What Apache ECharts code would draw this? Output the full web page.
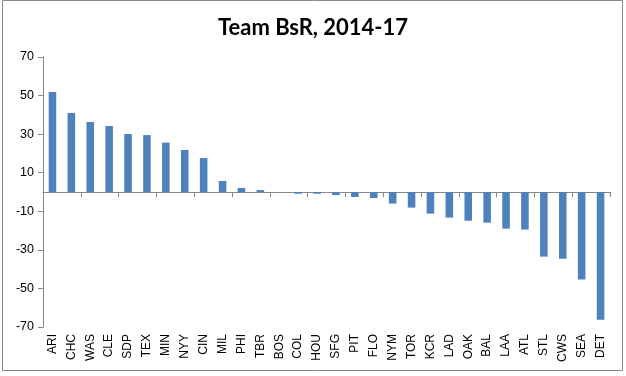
<!DOCTYPE html>
<html>
<head>
<meta charset="utf-8">
<script src="https://cdn.jsdelivr.net/npm/echarts@6/dist/echarts.min.js"></script>
<style>
html,body{margin:0;padding:0;background:#fff;}
#chart{width:626px;height:376px;}
</style>
</head>
<body>
<div id="chart"></div>
<script>
const teams = ["ARI","CHC","WAS","CLE","SDP","TEX","MIN","NYY","CIN","MIL","PHI","TBR","BOS","COL","HOU","SFG","PIT","FLO","NYM","TOR","KCR","LAD","OAK","BAL","LAA","ATL","STL","CWS","SEA","DET"];
const bsr = [51.8,41.0,36.3,34.2,30.1,29.5,25.6,21.8,17.6,5.7,2.1,1.0,0.0,-0.9,-0.9,-1.6,-2.6,-3.1,-6.0,-8.1,-11.2,-13.3,-14.9,-15.9,-19.0,-19.5,-33.5,-34.6,-45.4,-66.2];
const yMin = -70, yMax = 70, yStep = 20;
const titleText = "Team BsR, 2014-17";

const chart = echarts.init(document.getElementById('chart'), null, {renderer:'canvas'});
const axisGray = '#868686';
chart.setOption({
  animation: false,
  backgroundColor: '#ffffff',
  title: {
    text: titleText,
    left: 'center',
    top: 12,
    textStyle: {fontFamily: 'Lato', fontWeight: 'bold', fontSize: 22, color: '#000'}
  },
  graphic: [{
    type: 'rect',
    shape: {x: 2.5, y: 0.5, width: 620, height: 370},
    style: {fill: 'none', stroke: '#888888', lineWidth: 1},
    silent: true
  }],
  grid: {left: 43, right: 16, top: 57, bottom: 49, containLabel: false},
  xAxis: [{
    type: 'category',
    data: teams,
    axisLine: {onZero: true, lineStyle: {color: axisGray, width: 1}},
    axisTick: {show: true, alignWithLabel: false, length: 5, lineStyle: {color: axisGray}},
    axisLabel: {show: false}
  }, {
    type: 'category',
    data: teams,
    position: 'bottom',
    axisLine: {show: false, onZero: false},
    axisTick: {show: false},
    axisLabel: {show: true, rotate: 90, interval: 0, margin: 7, fontFamily: 'Liberation Sans', fontSize: 12, color: '#000'}
  }],
  yAxis: {
    type: 'value',
    min: yMin, max: yMax, interval: yStep,
    axisLine: {show: true, lineStyle: {color: axisGray, width: 1}},
    axisTick: {show: true, length: 5, lineStyle: {color: axisGray}},
    splitLine: {show: false},
    axisLabel: {margin: 9, fontFamily: 'Liberation Sans', fontSize: 12.5, color: '#000'}
  },
  series: [{
    type: 'bar',
    xAxisIndex: 0,
    data: bsr,
    barWidth: '40%',
    itemStyle: {color: '#4F81BD'}
  }]
});
</script>
</body>
</html>
